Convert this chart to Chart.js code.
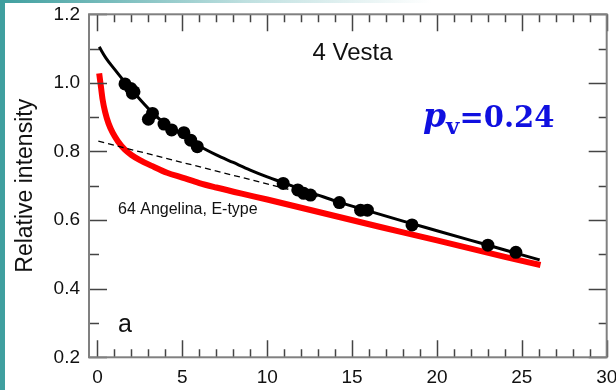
<!DOCTYPE html>
<html>
<head>
<meta charset="utf-8">
<script src="https://cdn.jsdelivr.net/npm/chart.js@4.4.1/dist/chart.umd.min.js"></script>
<style>
  html, body { margin: 0; padding: 0; background: #fff; }
  #wrap { position: relative; width: 616px; height: 390px; overflow: hidden; }
  #chart { position: absolute; left: 0; top: 0; }
  .strip { position: absolute; left: 0; top: 0; width: 5px; height: 390px; background: #3f9f9f; }
  .band { position: absolute; left: 0; top: 0; width: 616px; height: 3px;
          background: linear-gradient(to right, #3f9f9f, #bfe0e0 40%, #ffffff 70%); }
</style>
</head>
<body>
<div id="wrap">
  <canvas id="chart" width="616" height="390"></canvas>
  <div class="band"></div>
  <div class="strip"></div>
</div>
<script>
// Vesta measurements (phase angle, relative intensity)
const vestaX = [1.62, 1.96, 2.15, 2.06, 3.24, 3.0, 3.92, 4.37, 5.09, 5.49, 5.88,
  10.94, 11.8, 12.15, 12.55, 14.25, 15.5, 15.9, 18.53, 23.0, 24.65];
const vestaY = [0.997, 0.984, 0.974, 0.970, 0.911, 0.894, 0.880, 0.863, 0.855, 0.833, 0.814,
  0.707, 0.688, 0.678, 0.673, 0.651, 0.629, 0.629, 0.586, 0.527, 0.506];

// Vesta fit curve
const fitX = [0.1, 0.5, 1, 1.6, 2, 3, 4, 5, 6, 7, 8, 9, 10, 11, 12, 13, 14, 16, 18, 20, 22, 24, 26.05];
const fitY = [1.105, 1.072, 1.04, 1.003, 0.98, 0.925, 0.88, 0.848, 0.816, 0.79, 0.768, 0.746, 0.726,
  0.708, 0.69, 0.673, 0.656, 0.626, 0.597, 0.569, 0.541, 0.513, 0.484];

// 64 Angelina, E-type curve
const angX = [0.1, 0.2, 0.3, 0.45, 0.65, 0.9, 1.2, 1.6, 2, 2.5, 3.2, 4.1, 5, 6, 7, 8.5, 10,
  12, 14, 16, 18, 20, 22, 24, 26.1];
const angY = [1.028, 0.99, 0.952, 0.915, 0.882, 0.854, 0.83, 0.806, 0.79, 0.775, 0.758, 0.738,
  0.724, 0.708, 0.695, 0.677, 0.66, 0.636, 0.612, 0.588, 0.564, 0.541, 0.517, 0.493, 0.469];

// Linear extrapolation (dashed)
const dashX = [0.05, 13];
const dashY = [0.83, 0.668];

// Axis ticks
const xTicks = [0, 5, 10, 15, 20, 25, 30];
const yTicks = [0.2, 0.4, 0.6, 0.8, 1.0, 1.2];

function toPoints(xs, ys) {
  return xs.map(function (x, i) { return { x: x, y: ys[i] }; });
}

// Frame, inside ticks and text labels
const framePlugin = {
  id: "frame",
  afterDraw(chart) {
    const ctx = chart.ctx;
    const a = chart.chartArea;
    const xs = chart.scales.x;
    const ys = chart.scales.y;
    ctx.save();

    ctx.strokeStyle = "#444";
    ctx.lineWidth = 1.5;
    ctx.beginPath();
    for (let v = 0; v <= 30; v++) {
      const px = Math.round(xs.getPixelForValue(v)) + 0.5;
      const len = v % 5 === 0 ? 17 : 8;
      ctx.moveTo(px, a.bottom); ctx.lineTo(px, a.bottom - len);
      ctx.moveTo(px, a.top); ctx.lineTo(px, a.top + len);
    }
    for (let i = 2; i <= 12; i++) {
      const py = Math.round(ys.getPixelForValue(i / 10)) + 0.5;
      const major = i % 2 === 0;
      ctx.moveTo(a.left, py); ctx.lineTo(a.left + (major ? 18 : 10), py);
      ctx.moveTo(a.right, py); ctx.lineTo(a.right - (major ? 18 : 8), py);
    }
    ctx.stroke();

    ctx.strokeStyle = "#808080";
    ctx.lineWidth = 2;
    ctx.strokeRect(a.left, a.top, a.right - a.left, a.bottom - a.top);

    ctx.fillStyle = "#111";
    ctx.textBaseline = "alphabetic";
    ctx.textAlign = "center";
    ctx.font = "24px 'Liberation Sans', Arial, sans-serif";
    ctx.fillText("4 Vesta", 352.5, 60);
    ctx.textAlign = "left";
    ctx.font = "16px 'Liberation Sans', Arial, sans-serif";
    ctx.fillText("64 Angelina, E-type", 118, 213.5);
    ctx.font = "25px 'Liberation Sans', Arial, sans-serif";
    ctx.fillText("a", 118, 332);

    // p_v = 0.24
    ctx.fillStyle = "#1010e0";
    let x = 423;
    ctx.font = "italic bold 33px 'DejaVu Serif', serif";
    ctx.fillText("p", x, 127);
    x += ctx.measureText("p").width;
    ctx.font = "bold 23px 'DejaVu Serif', serif";
    ctx.fillText("v", x, 133.5);
    x += ctx.measureText("v").width;
    ctx.font = "bold 29px 'DejaVu Serif', serif";
    ctx.fillText("=0.24", x, 127);
    ctx.restore();
  }
};

new Chart(document.getElementById("chart"), {
  type: "scatter",
  data: {
    datasets: [
      {
        data: toPoints(vestaX, vestaY),
        showLine: false,
        pointRadius: 6.5,
        pointBackgroundColor: "#000",
        pointBorderColor: "#000",
        pointBorderWidth: 0
      },
      {
        data: toPoints(fitX, fitY),
        showLine: true,
        pointRadius: 0,
        borderColor: "#000",
        borderWidth: 3,
        cubicInterpolationMode: "monotone"
      },
      {
        data: toPoints(dashX, dashY),
        showLine: true,
        pointRadius: 0,
        borderColor: "#000",
        borderWidth: 1.3,
        borderDash: [6, 4]
      },
      {
        data: toPoints(angX, angY),
        showLine: true,
        pointRadius: 0,
        borderColor: "#ff0000",
        borderWidth: 6,
        cubicInterpolationMode: "monotone"
      }
    ]
  },
  options: {
    responsive: false,
    animation: false,
    layout: { padding: { top: 14.3, right: 9.3, left: 0, bottom: 0 } },
    plugins: { legend: { display: false }, tooltip: { enabled: false } },
    scales: {
      x: {
        type: "linear",
        min: -0.5,
        max: 30,
        grid: { display: false, drawTicks: false },
        border: { display: false },
        afterBuildTicks: function (s) { s.ticks = xTicks.map(function (v) { return { value: v }; }); },
        afterFit: function (s) {
          s.height = 32.7;
          s.paddingLeft = 0; s.paddingRight = 0; s.paddingTop = 0; s.paddingBottom = 0;
        },
        ticks: {
          padding: 9,
          color: "#111",
          maxRotation: 0,
          font: { family: "'Liberation Sans', Arial, sans-serif", size: 19 },
          callback: function (v) { return String(v); }
        }
      },
      y: {
        type: "linear",
        min: 0.2,
        max: 1.2,
        grid: { display: false, drawTicks: false },
        border: { display: false },
        afterBuildTicks: function (s) { s.ticks = yTicks.map(function (v) { return { value: v }; }); },
        afterFit: function (s) {
          s.width = 89;
          s.paddingLeft = 0; s.paddingRight = 0; s.paddingTop = 0; s.paddingBottom = 0;
        },
        title: {
          display: true,
          text: "Relative intensity",
          color: "#111",
          padding: { top: 12, bottom: 0 },
          font: { family: "'Liberation Sans', Arial, sans-serif", size: 23 }
        },
        ticks: {
          padding: 9,
          color: "#111",
          font: { family: "'Liberation Sans', Arial, sans-serif", size: 19 },
          callback: function (v) { return Number(v).toFixed(1); }
        }
      }
    }
  },
  plugins: [framePlugin]
});
</script>
</body>
</html>
